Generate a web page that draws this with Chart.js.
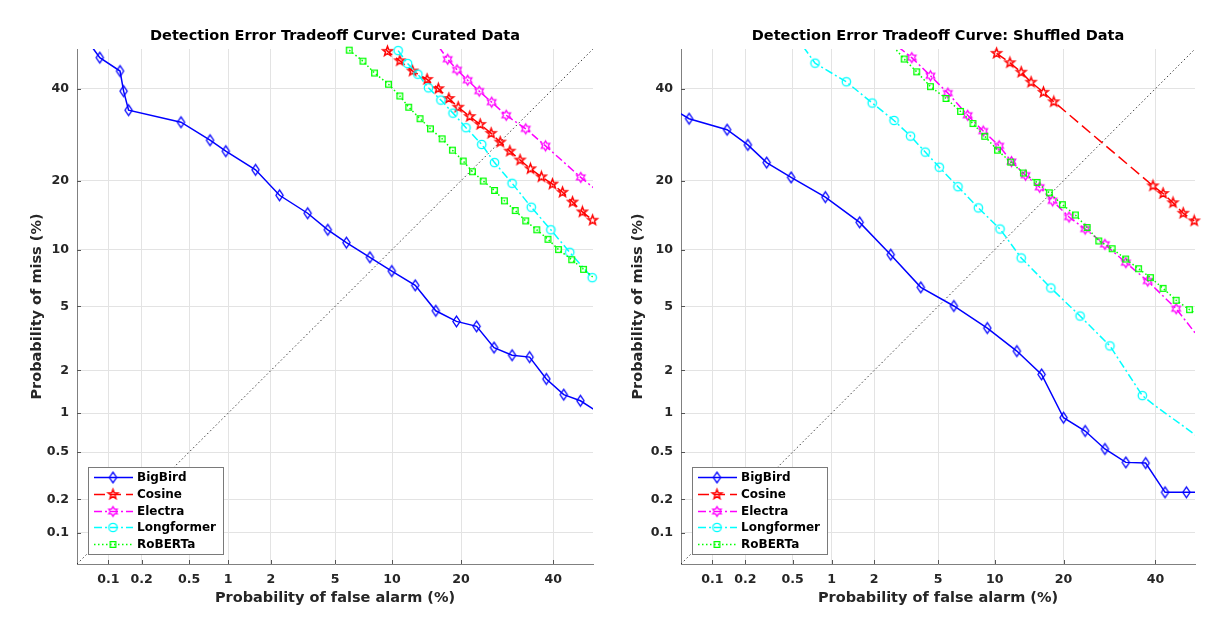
<!DOCTYPE html>
<html>
<head>
<meta charset="utf-8">
<title>Detection Error Tradeoff Curves</title>
<script src="https://cdn.jsdelivr.net/npm/chart.js@4/dist/chart.umd.min.js"></script>
<style>
  body { margin: 0; background: #fff; }
  #wrap { position: relative; width: 1214px; height: 639px; }
  canvas { position: absolute; top: 0; }
  #curated { left: 0; }
  #shuffled { left: 607px; }
</style>
</head>
<body>
<div id="wrap">
  <canvas id="curated" width="607" height="639"></canvas>
  <canvas id="shuffled" width="607" height="639"></canvas>
</div>
<script>
// axis ticks (percent) and their labels, same for both axes
const detTicks = [0.1, 0.2, 0.5, 1, 2, 5, 10, 20, 40];
const tickLabels = ["0.1", "0.2", "0.5", "1", "2", "5", "10", "20", "40"];
const axisLimits = [0.05, 50];
const seriesNames = ["BigBird", "Cosine", "Electra", "Longformer", "RoBERTa"];

// chance diagonal
const diagFa = [0.05, 50];
const diagMiss = [0.05, 50];

// ---- Curated data: false alarm % / miss % at the markers ----
const curBigBirdFa = [0.083, 0.128, 0.138, 0.153, 0.43, 0.73, 0.96, 1.57, 2.28, 3.44, 4.54, 5.79, 7.74, 9.97, 12.85, 15.8, 19.2, 22.9, 26.4, 30.3, 34.3, 38.3, 42.6, 46.8];
const curBigBirdMiss = [47.8, 44.4, 39.4, 34.8, 32.0, 28.0, 25.7, 22.0, 17.5, 14.7, 12.4, 10.8, 9.16, 7.80, 6.55, 4.72, 4.09, 3.82, 2.82, 2.52, 2.45, 1.75, 1.36, 1.23];
const curBigBirdHead = [[0.070, 50.5]];
const curBigBirdTail = [[51, 1.03]];

const curCosineFa = [9.5, 10.9, 12.5, 14.5, 16.2, 17.9, 19.5, 21.6, 23.6, 25.8, 27.7, 29.8, 32.1, 34.5, 37.1, 39.8, 42.3, 44.8, 47.3, 49.9];
const curCosineMiss = [49.4, 47.0, 44.4, 42.3, 40.0, 37.6, 35.5, 33.3, 31.5, 29.5, 27.6, 25.7, 23.9, 22.2, 20.7, 19.4, 18.0, 16.4, 14.9, 13.7];
const curCosineHead = [[9.2, 50.5]];
const curCosineTail = [];

const curElectraFa = [17.7, 19.3, 21.2, 23.4, 25.9, 29.0, 33.4, 38.1, 46.9];
const curElectraMiss = [47.4, 44.7, 42.1, 39.4, 36.7, 33.6, 30.5, 26.8, 20.6];
const curElectraHead = [[16.3, 50.5]];
const curElectraTail = [[50.8, 18.4]];

const curLongFa = [10.7, 11.85, 13.2, 14.7, 16.6, 18.6, 20.9, 23.9, 26.5, 30.3, 34.7, 39.4, 44.1, 49.8];
const curLongMiss = [49.6, 46.3, 43.6, 40.2, 37.2, 34.1, 30.75, 27.1, 23.4, 19.55, 15.6, 12.4, 9.70, 7.20];
const curLongHead = [];
const curLongTail = [];

const curRobertaFa = [6.00, 7.12, 8.18, 9.61, 10.9, 12.0, 13.5, 15.0, 16.8, 18.5, 20.4, 22.1, 24.2, 26.5, 28.6, 31.0, 33.4, 36.0, 38.7, 41.3, 44.6, 47.6];
const curRobertaMiss = [49.7, 46.9, 43.9, 41.1, 38.2, 35.5, 32.8, 30.5, 28.3, 25.9, 23.7, 21.65, 19.95, 18.3, 16.6, 15.1, 13.6, 12.4, 11.2, 10.0, 8.91, 7.96];
const curRobertaHead = [];
const curRobertaTail = [[50.5, 7.1]];

// ---- Shuffled data ----
const shfBigBirdFa = [0.060, 0.137, 0.210, 0.305, 0.486, 0.898, 1.59, 2.57, 3.96, 6.13, 9.18, 12.7, 16.3, 20.0, 24.1, 28.2, 32.9, 37.6, 42.4, 47.8];
const shfBigBirdMiss = [32.8, 30.3, 27.0, 23.4, 20.6, 17.2, 13.4, 9.44, 6.39, 5.03, 3.73, 2.68, 1.88, 0.924, 0.733, 0.530, 0.413, 0.408, 0.231, 0.231];
const shfBigBirdHead = [[0.048, 34.2]];
const shfBigBirdTail = [[51, 0.231]];

const shfCosineFa = [10.2, 11.8, 13.3, 14.7, 16.6, 18.3, 39.4, 41.9, 44.4, 47.0, 49.8];
const shfCosineMiss = [48.9, 46.5, 44.1, 41.6, 39.1, 36.8, 19.1, 17.8, 16.3, 14.7, 13.6];
const shfCosineHead = [];
const shfCosineTail = [];

const shfElectraFa = [3.49, 4.52, 5.68, 7.28, 8.76, 10.5, 12.0, 13.9, 16.0, 18.1, 21.0, 24.1, 28.2, 32.9, 38.1, 45.2];
const shfElectraMiss = [47.8, 43.2, 38.9, 33.6, 30.0, 26.8, 23.6, 21.0, 18.85, 16.6, 14.15, 12.5, 10.6, 8.61, 6.91, 4.85];
const shfElectraHead = [[2.88, 50.5]];
const shfElectraTail = [[50.8, 3.3]];

const shfLongFa = [0.75, 1.28, 1.94, 2.70, 3.43, 4.21, 5.08, 6.46, 8.27, 10.6, 13.3, 17.8, 23.1, 29.3, 36.8];
const shfLongMiss = [46.4, 41.7, 36.5, 32.4, 28.9, 25.5, 22.5, 18.95, 15.5, 12.5, 9.09, 6.34, 4.40, 2.89, 1.34];
const shfLongHead = [[0.61, 50.5]];
const shfLongTail = [[39.6, 1.15], [50.8, 0.66]];

const shfRobertaFa = [3.13, 3.74, 4.52, 5.55, 6.67, 7.76, 8.91, 10.3, 11.9, 13.6, 15.6, 17.55, 19.8, 22.2, 24.5, 26.9, 29.8, 32.85, 35.9, 38.8, 41.9, 45.2, 48.6];
const shfRobertaMiss = [47.45, 44.2, 40.5, 37.6, 34.5, 31.7, 28.85, 25.9, 23.5, 21.4, 19.7, 17.9, 16.0, 14.45, 12.7, 11.0, 10.1, 8.98, 8.02, 7.20, 6.31, 5.42, 4.79];
const shfRobertaHead = [[2.69, 50.5]];
const shfRobertaTail = [[50.8, 4.46]];

// inverse standard normal cdf (Acklam)
function probit(p) {
    const a = [-39.69683028665376, 220.9460984245205, -275.9285104469687, 138.3577518672690, -30.66479806614716, 2.506628277459239];
    const b = [-54.47609879822406, 161.5858368580409, -155.6989798598866, 66.80131188771972, -13.28068155288572];
    const c = [-0.007784894002430293, -0.3223964580411365, -2.400758277161838, -2.549671348283685, 4.374664141464968, 2.938163982698783];
    const d = [0.007784695709041462, 0.3224671290700398, 2.445134137142996, 3.754408661907416];
    const pLow = 0.02425;
    let q, r;
    if (p < pLow) {
        q = Math.sqrt(-2 * Math.log(p));
        return (((((c[0] * q + c[1]) * q + c[2]) * q + c[3]) * q + c[4]) * q + c[5]) /
            ((((d[0] * q + d[1]) * q + d[2]) * q + d[3]) * q + 1);
    }
    if (p <= 1 - pLow) {
        q = p - 0.5;
        r = q * q;
        return (((((a[0] * r + a[1]) * r + a[2]) * r + a[3]) * r + a[4]) * r + a[5]) * q /
            (((((b[0] * r + b[1]) * r + b[2]) * r + b[3]) * r + b[4]) * r + 1);
    }
    q = Math.sqrt(-2 * Math.log(1 - p));
    return -(((((c[0] * q + c[1]) * q + c[2]) * q + c[3]) * q + c[4]) * q + c[5]) /
        ((((d[0] * q + d[1]) * q + d[2]) * q + d[3]) * q + 1);
}

function normCdf(z) {
    const t = 1 / (1 + 0.3275911 * Math.abs(z) / Math.SQRT2);
    const y = 1 - (((((1.061405429 * t - 1.453152027) * t) + 1.421413741) * t - 0.284496736) * t + 0.254829592) * t * Math.exp(-z * z / 2);
    return z >= 0 ? (1 + y) / 2 : (1 - y) / 2;
}

// normal deviate scale, values in percent
class ProbitScale extends Chart.Scale {
    static id = "probit";
    static defaults = {};

    parse(raw) {
        return raw == null ? null : +raw;
    }
    determineDataLimits() {
        this.min = this.options.min;
        this.max = this.options.max;
    }
    buildTicks() {
        return detTicks.map(v => ({ value: v }));
    }
    getLabelForValue(v) {
        return String(v);
    }
    configure() {
        super.configure();
        this._zStart = probit(this.min / 100);
        this._zRange = probit(this.max / 100) - this._zStart;
    }
    getPixelForValue(v) {
        return this.getPixelForDecimal((probit(v / 100) - this._zStart) / this._zRange);
    }
    getValueForPixel(px) {
        return 100 * normCdf(this._zStart + this.getDecimalForPixel(px) * this._zRange);
    }
}
Chart.register(ProbitScale);

Chart.defaults.font.family = "'DejaVu Sans', sans-serif";

// MATLAB-like markers drawn once on small canvases
function makeMarker(kind, color) {
    const c = document.createElement("canvas");
    c.width = 15;
    c.height = 15;
    const g = c.getContext("2d");
    g.translate(7.5, 7.5);
    g.strokeStyle = color;
    g.lineWidth = 1.3;
    g.lineJoin = "miter";
    g.beginPath();
    if (kind === "diamond") {
        g.moveTo(0, -5.3); g.lineTo(3.6, 0); g.lineTo(0, 5.3); g.lineTo(-3.6, 0);
        g.closePath();
    } else if (kind === "circle") {
        g.arc(0, 0, 4.2, 0, 2 * Math.PI);
    } else if (kind === "square") {
        g.rect(-2.8, -2.8, 5.6, 5.6);
    } else {
        const n = kind === "pentagram" ? 5 : 6;
        const R = kind === "pentagram" ? 5.0 : 4.9;
        const r = kind === "pentagram" ? R * 0.42 : R * 0.58;
        if (kind === "pentagram") g.lineWidth = 1.5;
        for (let i = 0; i < 2 * n; i++) {
            const ang = -Math.PI / 2 + i * Math.PI / n;
            const rr = i % 2 ? r : R;
            g.lineTo(rr * Math.cos(ang), rr * Math.sin(ang));
        }
        g.closePath();
    }
    g.stroke();
    return c;
}

const seriesStyles = [
    { color: "#0000ff", dash: [], marker: makeMarker("diamond", "#0000ff") },
    { color: "#ff0000", dash: [11, 5], marker: makeMarker("pentagram", "#ff0000") },
    { color: "#ff00ff", dash: [8, 3, 2, 3], marker: makeMarker("hexagram", "#ff00ff") },
    { color: "#00ffff", dash: [8, 3, 2, 3], marker: makeMarker("circle", "#00ffff") },
    { color: "#00ff00", dash: [1.5, 2.5], marker: makeMarker("square", "#00ff00") }
];

function toPoints(fa, miss) {
    return fa.map((x, i) => ({ x: x, y: miss[i] }));
}
function pairPoints(list) {
    return list.map(p => ({ x: p[0], y: p[1] }));
}

// legend box in the lower left corner of the axes
function makeLegend(series) {
    return {
        id: "detLegend",
        afterDraw(chart) {
            const ctx = chart.ctx;
            const area = chart.chartArea;
            ctx.save();
            ctx.font = "bold 12px 'DejaVu Sans'";
            const textW = Math.max(...series.map(s => ctx.measureText(s.name).width));
            const rowH = 16.75;
            const boxL = Math.round(area.left + 11);
            const boxH = 20 + rowH * (series.length - 1);
            const boxT = Math.round(area.bottom - 10 - boxH);
            const boxW = Math.round(49 + textW + 7);
            ctx.fillStyle = "#ffffff";
            ctx.fillRect(boxL, boxT, boxW, boxH);
            ctx.strokeStyle = "#7a7a7a";
            ctx.lineWidth = 1;
            ctx.strokeRect(boxL + 0.5, boxT + 0.5, boxW, boxH);
            series.forEach((s, i) => {
                const y = Math.round(boxT + 10 + i * rowH) + 0.5;
                ctx.strokeStyle = s.color;
                ctx.lineWidth = 1.5;
                ctx.setLineDash(s.dash);
                ctx.beginPath();
                ctx.moveTo(boxL + 6, y);
                ctx.lineTo(boxL + 45, y);
                ctx.stroke();
                ctx.setLineDash([]);
                ctx.drawImage(s.marker, boxL + 25 - s.marker.width / 2, y - s.marker.height / 2);
                ctx.fillStyle = "#000000";
                ctx.textBaseline = "middle";
                ctx.fillText(s.name, boxL + 49, y + 0.5);
            });
            ctx.restore();
        }
    };
}

// small inward tick marks like MATLAB axes
const innerTicks = {
    id: "innerTicks",
    afterDatasetsDraw(chart) {
        const ctx = chart.ctx;
        const area = chart.chartArea;
        const xs = chart.scales.x, ys = chart.scales.y;
        ctx.save();
        ctx.strokeStyle = "#555555";
        ctx.lineWidth = 1;
        ctx.beginPath();
        xs.ticks.forEach(t => {
            const px = Math.round(xs.getPixelForValue(t.value)) + 0.5;
            ctx.moveTo(px, area.bottom);
            ctx.lineTo(px, area.bottom - 4);
        });
        ys.ticks.forEach(t => {
            const py = Math.round(ys.getPixelForValue(t.value)) + 0.5;
            ctx.moveTo(area.left, py);
            ctx.lineTo(area.left + 4, py);
        });
        ctx.stroke();
        ctx.restore();
    }
};

function buildChart(canvasId, title, series, pad) {
    const datasets = [{
        label: "chance",
        data: toPoints(diagFa, diagMiss),
        borderColor: "rgba(30,30,30,0.85)",
        borderWidth: 1,
        borderDash: [1.5, 2.5],
        pointRadius: 0,
        clip: 0,
        order: 100
    }];

    series.forEach((s, k) => {
        const marks = toPoints(s.fa, s.miss);
        const line = pairPoints(s.head).concat(marks, pairPoints(s.tail));
        datasets.push({
            label: s.name,
            data: line,
            borderColor: s.color,
            borderWidth: 1.5,
            borderDash: s.dash,
            pointRadius: 0,
            clip: 0,
            order: 20 - 2 * k
        });
        datasets.push({
            label: s.name + " markers",
            data: marks,
            showLine: false,
            pointStyle: s.marker,
            pointRadius: 5,
            clip: false,
            order: 19 - 2 * k
        });
    });

    const tickFont = { size: 12.6, weight: "bold" };
    const titleFont = { size: 14.5, weight: "bold" };

    return new Chart(document.getElementById(canvasId), {
        type: "line",
        data: { datasets: datasets },
        options: {
            responsive: false,
            animation: false,
            devicePixelRatio: 1,
            events: [],
            layout: { padding: { left: pad.left, right: pad.right, top: 28, bottom: 32.3 } },
            plugins: {
                legend: { display: false },
                tooltip: { enabled: false },
                title: {
                    display: true,
                    text: title,
                    fullSize: false,
                    color: "#000000",
                    font: titleFont,
                    padding: { top: 0, bottom: 3.6 }
                }
            },
            scales: {
                x: {
                    type: "probit",
                    position: "bottom",
                    min: axisLimits[0],
                    max: axisLimits[1],
                    grid: { color: "#e3e3e3", drawTicks: false },
                    border: { color: "#808080" },
                    ticks: {
                        autoSkip: false,
                        maxRotation: 0,
                        padding: 8,
                        color: "#262626",
                        font: tickFont,
                        callback: (v, i) => tickLabels[i]
                    },
                    title: {
                        display: true,
                        text: "Probability of false alarm (%)",
                        color: "#262626",
                        font: titleFont,
                        padding: 0
                    },
                    afterFit: s => { s.height = 42.7; }
                },
                y: {
                    type: "probit",
                    position: "left",
                    min: axisLimits[0],
                    max: axisLimits[1],
                    grid: { color: "#e3e3e3", drawTicks: false },
                    border: { color: "#808080" },
                    ticks: {
                        autoSkip: false,
                        padding: 8,
                        color: "#262626",
                        font: tickFont,
                        callback: (v, i) => tickLabels[i]
                    },
                    title: {
                        display: true,
                        text: "Probability of miss (%)",
                        color: "#262626",
                        font: titleFont,
                        padding: 0
                    },
                    afterFit: s => { s.width = pad.yWidth; }
                }
            }
        },
        plugins: [innerTicks, makeLegend(series)]
    });
}

function makeSeries(fas, misses, heads, tails) {
    return seriesNames.map((name, k) => Object.assign({
        name: name,
        fa: fas[k],
        miss: misses[k],
        head: heads[k],
        tail: tails[k]
    }, seriesStyles[k]));
}

const curatedSeries = makeSeries(
    [curBigBirdFa, curCosineFa, curElectraFa, curLongFa, curRobertaFa],
    [curBigBirdMiss, curCosineMiss, curElectraMiss, curLongMiss, curRobertaMiss],
    [curBigBirdHead, curCosineHead, curElectraHead, curLongHead, curRobertaHead],
    [curBigBirdTail, curCosineTail, curElectraTail, curLongTail, curRobertaTail]
);
const shuffledSeries = makeSeries(
    [shfBigBirdFa, shfCosineFa, shfElectraFa, shfLongFa, shfRobertaFa],
    [shfBigBirdMiss, shfCosineMiss, shfElectraMiss, shfLongMiss, shfRobertaMiss],
    [shfBigBirdHead, shfCosineHead, shfElectraHead, shfLongHead, shfRobertaHead],
    [shfBigBirdTail, shfCosineTail, shfElectraTail, shfLongTail, shfRobertaTail]
);

buildChart("curated", "Detection Error Tradeoff Curve: Curated Data", curatedSeries, { left: 29, right: 14, yWidth: 48 });
buildChart("shuffled", "Detection Error Tradeoff Curve: Shuffled Data", shuffledSeries, { left: 23, right: 19, yWidth: 51 });
</script>
</body>
</html>
